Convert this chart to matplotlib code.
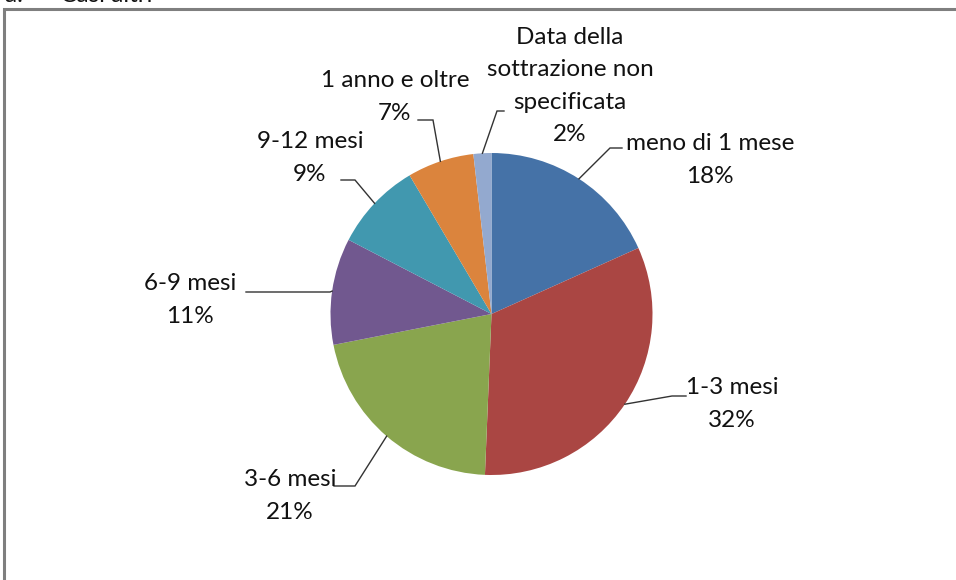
import numpy as np
import matplotlib
matplotlib.use("Agg")
import matplotlib.pyplot as plt
from matplotlib.patches import Rectangle

categories = ["meno di 1 mese", "1-3 mesi", "3-6 mesi", "6-9 mesi",
              "9-12 mesi", "1 anno e oltre",
              "Data della\nsottrazione non\nspecificata"]
values = [18.3, 32.4, 21.3, 10.7, 8.9, 6.7, 1.8]
colors = ["#4572A7", "#AA4643", "#89A54E", "#71588F", "#4198AF", "#DB843D", "#93A9CF"]

W, H = 956, 580
fig = plt.figure(figsize=(W / 100, H / 100), dpi=100)
ax = fig.add_axes([0, 0, 1, 1])

def P(x, y):
    return (x, H - y)

cx, cy = 491.5, 314
R = 161
wedges, _ = ax.pie(values, colors=colors, startangle=90, counterclock=False,
                   center=P(cx, cy), radius=R, frame=True,
                   wedgeprops=dict(linewidth=0))
ax.set_xlim(0, W)
ax.set_ylim(0, H)
ax.set_aspect("equal")
ax.axis("off")

font = dict(family=["Lato", "DejaVu Sans"], fontsize=17.5, color="#111111",
            linespacing=1.65)

# label layout: text center (px), elbow point (px), end of horizontal (px)
layout = [
    ((710, 160), (610, 148), (622, 148)),
    ((732, 404), (672, 396), (686, 396)),
    ((290, 496), (355, 486), (334, 486)),
    ((190, 300), (330, 292), (246, 292)),
    ((310, 158), (355, 180), (341, 180)),
    ((395, 97), (433, 120), (418, 120)),
    ((570, 86), (497, 111), (504, 111)),
]

for w, v, cat, (tpos, elbow, hend) in zip(wedges, values, categories, layout):
    mid = np.deg2rad((w.theta1 + w.theta2) / 2)
    sx = w.center[0] + w.r * np.cos(mid)
    sy = w.center[1] + w.r * np.sin(mid)
    ex, ey = P(*elbow)
    hx, hy = P(*hend)
    ax.plot([sx, ex, hx], [sy, ey, hy], color="#333333", lw=1.0,
            solid_joinstyle="miter")
    ax.text(*P(*tpos), f"{cat}\n{round(v):d}%", ha="center", va="center", **font)

# frame
ax.add_patch(Rectangle(P(4.5, 600), 1000, 591.5, fill=False,
                       edgecolor="#7f7f7f", lw=2.2))
# caption above frame, mostly cut off as in the reference
ax.text(5, H - 2, "a.      Casi altri", ha="left", va="baseline", **font)

fig.savefig("out.png", dpi=100)
